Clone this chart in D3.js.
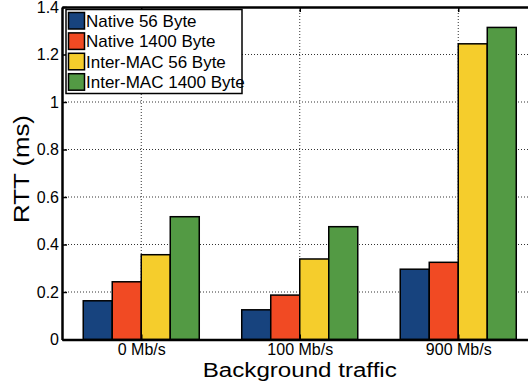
<!DOCTYPE html>
<html>
<head>
<meta charset="utf-8">
<script src="https://cdn.jsdelivr.net/npm/d3@7"></script>
<style>
  body { margin: 0; background: #fff; }
  svg { display: block; font-family: "Liberation Sans", Arial, Helvetica, sans-serif; }
</style>
</head>
<body>
<div id="chart"></div>
<script>
// data
let categories = ["0 Mb/s", "100 Mb/s", "900 Mb/s"];
let series = ["Native 56 Byte", "Native 1400 Byte", "Inter-MAC 56 Byte", "Inter-MAC 1400 Byte"];
let native56 = [0.163, 0.125, 0.296];
let native1400 = [0.243, 0.187, 0.325];
let inter56 = [0.357, 0.339, 1.245];
let inter1400 = [0.517, 0.475, 1.314];
let yTicks = [0, 0.2, 0.4, 0.6, 0.8, 1, 1.2, 1.4];
let colors = ["#17437e", "#f14a23", "#f5cd2c", "#539a44"];

let values = [native56, native1400, inter56, inter1400];

let W = 528, H = 385;
let plotLeft = 62, plotRight = 537.5, plotTop = 7, plotBottom = 339.5;
let fontFam = "Liberation Sans, Arial, Helvetica, sans-serif";

let svg = d3.select("#chart").append("svg")
    .attr("width", W).attr("height", H);

// x: groups at 1,2,3 with limits 0.5..3.5 (right edge is cut off by the window)
let x = d3.scaleLinear().domain([0.5, 3.5]).range([plotLeft, plotRight]);
let y = d3.scaleLinear().domain([0, 1.4]).range([plotBottom, plotTop]);
let barW = x(0.683) - x(0.5);

let grid = svg.append("g");
grid.selectAll("line.h")
    .data(yTicks.filter(d => d > 0 && d < 1.4))
    .enter().append("line")
    .attr("x1", plotLeft).attr("x2", W)
    .attr("y1", d => y(d)).attr("y2", d => y(d))
    .attr("stroke", "#333").attr("stroke-width", 1)
    .attr("stroke-dasharray", "1,2");
grid.selectAll("line.v")
    .data(categories)
    .enter().append("line")
    .attr("x1", (d, i) => x(i + 1)).attr("x2", (d, i) => x(i + 1))
    .attr("y1", plotTop).attr("y2", plotBottom)
    .attr("stroke", "#333").attr("stroke-width", 1)
    .attr("stroke-dasharray", "1,2");

// bars
series.forEach((s, si) => {
    svg.append("g").selectAll("rect")
        .data(values[si])
        .enter().append("rect")
        .attr("x", (d, i) => x(i + 1) + (si - 2) * barW)
        .attr("y", d => y(d))
        .attr("width", barW)
        .attr("height", d => y(0) - y(d))
        .attr("fill", colors[si])
        .attr("stroke", "#000")
        .attr("stroke-width", 1.5);
});

// axes
let yAxis = d3.axisLeft(y).tickValues(yTicks)
    .tickFormat(d => d === 0 ? "0" : d3.format("~g")(d))
    .tickSizeInner(-5).tickSizeOuter(0).tickPadding(3);
let ya = svg.append("g").attr("transform", `translate(${plotLeft},0)`).call(yAxis);
ya.select(".domain").attr("stroke-width", 2.5);
ya.selectAll(".tick line").attr("stroke-width", 1.5);
ya.selectAll("text").attr("font-size", 16).attr("fill", "#000")
    .attr("font-family", fontFam);

let xAxis = d3.axisBottom(x).tickValues([1, 2, 3])
    .tickFormat(d => categories[d - 1])
    .tickSizeInner(-5).tickSizeOuter(0).tickPadding(4);
let xa = svg.append("g").attr("transform", `translate(0,${plotBottom})`).call(xAxis);
xa.select(".domain").attr("stroke-width", 2.5);
xa.selectAll(".tick line").attr("stroke-width", 1.5);
xa.selectAll("text").attr("font-size", 16).attr("fill", "#000")
    .attr("font-family", fontFam);

// top frame line with inward ticks
let xTop = d3.axisTop(x).tickValues([1, 2, 3]).tickFormat("")
    .tickSizeInner(-5).tickSizeOuter(0);
let xt = svg.append("g").attr("transform", `translate(0,${plotTop})`).call(xTop);
xt.select(".domain").attr("stroke-width", 2.5);
xt.selectAll(".tick line").attr("stroke-width", 1.5);

// axis titles (the original is stretched a little along the text)
svg.append("text")
    .attr("transform", `translate(${x(2)},377) scale(1.15,1)`)
    .attr("text-anchor", "middle")
    .attr("font-size", 21)
    .text("Background traffic");
svg.append("text")
    .attr("transform", `translate(28.5,169) rotate(-90) scale(1.2,1)`)
    .attr("text-anchor", "middle")
    .attr("font-size", 21.5)
    .text("RTT (ms)");

// legend
let lg = svg.append("g").attr("transform", "translate(66,9.5)");
lg.append("rect")
    .attr("width", 176).attr("height", 84)
    .attr("fill", "#fff").attr("stroke", "#000").attr("stroke-width", 1.5);
let items = lg.selectAll("g.item").data(series).enter().append("g")
    .attr("transform", (d, i) => `translate(2.5,${3 + i * 20.4})`);
items.append("rect")
    .attr("width", 16).attr("height", 16.5)
    .attr("fill", (d, i) => colors[i])
    .attr("stroke", "#000").attr("stroke-width", 1.5);
items.append("text")
    .attr("x", 17.5).attr("y", 14.5)
    .attr("font-size", 17)
    .text(d => d);
</script>
</body>
</html>
